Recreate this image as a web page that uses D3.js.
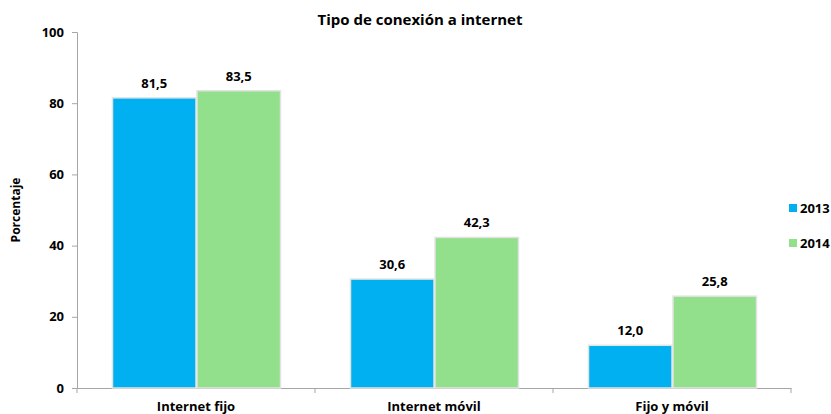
<!DOCTYPE html>
<html>
<head>
<meta charset="utf-8">
<script src="https://cdn.jsdelivr.net/npm/d3@7"></script>
<style>
  body { margin: 0; background: #fff; }
  text { font-family: "Open Sans", "Noto Sans", sans-serif; font-weight: bold; fill: #000; }
</style>
</head>
<body>
<div id="chart"></div>
<script>
// Data
var categories = ["Internet fijo", "Internet móvil", "Fijo y móvil"];
var series = ["2013", "2014"];
var values2013 = [81.5, 30.6, 12.0];
var values2014 = [83.5, 42.3, 25.8];
var yTicks = [0, 20, 40, 60, 80, 100];

var colors = { "2013": "#00b0f0", "2014": "#92e08b" };

var W = 831, H = 414;
var margin = { top: 32, right: 40, bottom: 26, left: 77 };
var width = W - margin.left - margin.right,
    height = H - margin.top - margin.bottom;

var svg = d3.select("#chart").append("svg")
    .attr("width", W)
    .attr("height", H);

var g = svg.append("g")
    .attr("transform", "translate(" + margin.left + "," + margin.top + ")");

var x = d3.scaleBand()
    .domain(categories)
    .range([0, width])
    .paddingInner(0)
    .paddingOuter(0);

var xInner = d3.scaleBand()
    .domain(series)
    .range([35, x.bandwidth() - 34])
    .padding(0);

var y = d3.scaleLinear()
    .domain([0, 100])
    .range([height, 0]);

// Title
svg.append("text")
    .attr("x", 420)
    .attr("y", 25)
    .attr("text-anchor", "middle")
    .style("font-size", "15px")
    .text("Tipo de conexión a internet");

// Y axis
var yAxis = g.append("g")
    .call(d3.axisLeft(y).tickValues(yTicks).tickSize(5).tickPadding(8));
yAxis.select(".domain").attr("stroke", "#a6a6a6");
yAxis.selectAll(".tick line").attr("stroke", "#a6a6a6");
yAxis.selectAll(".tick text")
    .style("font-size", "13px")
    .style("font-family", "'Open Sans', sans-serif")
    .style("font-weight", "bold")
    .attr("fill", "#000");

// X axis
var xAxis = g.append("g")
    .attr("transform", "translate(0," + height + ")")
    .call(d3.axisBottom(x).tickSize(0).tickPadding(14));
xAxis.select(".domain").attr("stroke", "#a6a6a6");
xAxis.selectAll(".tick text")
    .style("font-size", "13px")
    .style("font-family", "'Open Sans', sans-serif")
    .style("font-weight", "bold")
    .attr("fill", "#000");

// Category separator ticks
var edges = categories.map(function (c) { return x(c); }).concat([width]);
g.selectAll(".sep")
    .data(edges)
    .enter().append("line")
    .attr("x1", function (d) { return d; })
    .attr("x2", function (d) { return d; })
    .attr("y1", height)
    .attr("y2", height + 5)
    .attr("stroke", "#a6a6a6");

// Bars
var rows = categories.map(function (c, i) {
    return { cat: c, vals: [{ s: "2013", v: values2013[i] }, { s: "2014", v: values2014[i] }] };
});

var groups = g.selectAll(".cat")
    .data(rows)
    .enter().append("g")
    .attr("transform", function (d) { return "translate(" + x(d.cat) + ",0)"; });

groups.selectAll("rect")
    .data(function (d) { return d.vals; })
    .enter().append("rect")
    .attr("x", function (d) { return xInner(d.s) + 0.5; })
    .attr("y", function (d) { return y(d.v); })
    .attr("width", xInner.bandwidth() - 1)
    .attr("height", function (d) { return height - y(d.v); })
    .attr("fill", function (d) { return colors[d.s]; })
    .attr("stroke", "#e3e3e3")
    .attr("stroke-width", 1.5);

groups.selectAll(".val")
    .data(function (d) { return d.vals; })
    .enter().append("text")
    .attr("x", function (d) { return xInner(d.s) + xInner.bandwidth() / 2; })
    .attr("y", function (d) { return y(d.v) - 10; })
    .attr("text-anchor", "middle")
    .style("font-size", "13px")
    .text(function (d) { return d.v.toFixed(1).replace(".", ","); });

// Y axis title
svg.append("text")
    .attr("transform", "translate(20," + (margin.top + height / 2) + ") rotate(-90)")
    .attr("text-anchor", "middle")
    .style("font-size", "12px")
    .text("Porcentaje");

// Legend
var legend = svg.append("g")
    .selectAll("g")
    .data(series)
    .enter().append("g")
    .attr("transform", function (d, i) { return "translate(789," + (204 + i * 35) + ")"; });

legend.append("rect")
    .attr("width", 8)
    .attr("height", 8)
    .attr("fill", function (d) { return colors[d]; });

legend.append("text")
    .attr("x", 11)
    .attr("y", 9)
    .style("font-size", "13px")
    .text(function (d) { return d; });
</script>
</body>
</html>
